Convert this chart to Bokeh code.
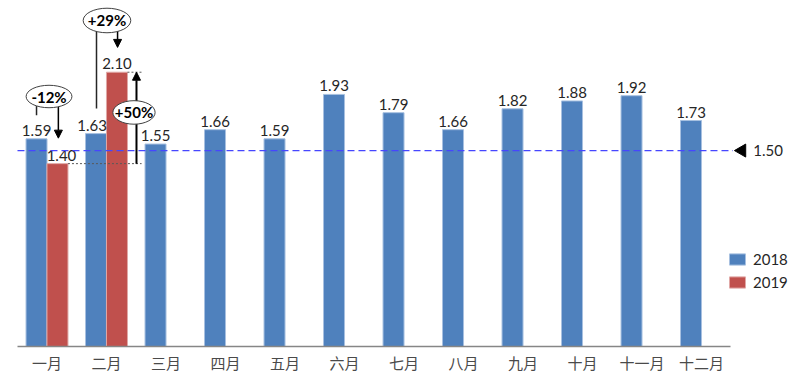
from math import pi
from bokeh.plotting import figure
from bokeh.models import (Range1d, FixedTicker, Arrow, NormalHead, Legend, LegendItem,
                          ColumnDataSource)
from bokeh.transform import dodge
from bokeh.embed import file_html
from bokeh.resources import INLINE
from bokeh.core.properties import value

# ---------------- data ----------------
months = ["一月", "二月", "三月", "四月", "五月", "六月",
          "七月", "八月", "九月", "十月", "十一月", "十二月"]
v2018 = [1.59, 1.63, 1.55, 1.66, 1.59, 1.93, 1.79, 1.66, 1.82, 1.88, 1.92, 1.73]
v2019 = [1.40, 2.10]
target = 1.50
series = ["2018", "2019"]
change_labels = ["-12%", "+29%", "+50%"]

# ---------------- styles ----------------
BLUE = "#4F81BD"
RED = "#C0504D"
NUM_FONT = value("Lato")
CJK_FONT = "Noto Sans CJK SC"
BW = 0.353          # bar width (category units)
OFF = 0.176         # dodge offset

idx = list(range(len(months)))
src18 = ColumnDataSource(dict(x=idx, top=v2018,
                              lab=[f"{v:.2f}" for v in v2018],
                              dx=[0, -4] + [0] * (len(months) - 2)))
src19 = ColumnDataSource(dict(x=idx[:len(v2019)], top=v2019,
                              lab=[f"{v:.2f}" for v in v2019],
                              dx=[4, 0]))

p = figure(width=800, height=380, output_backend="svg", toolbar_location=None,
           x_range=Range1d(-0.7815, 12.664), y_range=Range1d(0, 2.649),
           y_axis_location=None,
           min_border_left=0, min_border_right=0, min_border_top=0, min_border_bottom=34)
p.outline_line_color = None
p.xgrid.visible = False
p.ygrid.visible = False
p.background_fill_color = "white"

ax = p.xaxis[0]
ax.ticker = FixedTicker(ticks=idx)
ax.major_label_overrides = {i: m for i, m in zip(idx, months)}
ax.major_tick_line_color = None
ax.minor_tick_line_color = None
ax.major_tick_in = 0
ax.major_tick_out = 0
ax.axis_line_color = "#868686"
ax.axis_line_width = 1.5
ax.bounds = (-0.496, len(months) - 0.513)
ax.major_label_text_font = CJK_FONT
ax.major_label_text_font_size = "15px"
ax.major_label_text_color = "#4a4a4a"
ax.major_label_standoff = 5

# bars
r18 = p.vbar(x=dodge("x", -OFF), top="top", width=BW, source=src18,
             fill_color=BLUE, line_color="#A7C0E0", line_width=1)
r19 = p.vbar(x=dodge("x", OFF), top="top", width=BW, source=src19,
             fill_color=RED, line_color="#E0A8A6", line_width=1)

# data labels
p.text(x=dodge("x", -OFF), y="top", text="lab", source=src18, x_offset="dx", y_offset=-3,
       text_align="center", text_baseline="bottom", text_font=NUM_FONT,
       text_font_size="15px", text_color="#262626")
p.text(x=dodge("x", OFF), y="top", text="lab", source=src19, x_offset="dx", y_offset=-3,
       text_align="center", text_baseline="bottom", text_font=NUM_FONT,
       text_font_size="15px", text_color="#262626")

# target line
last = len(months) - 1
p.segment(x0=[-0.496], x1=[last + 0.53], y0=[target], y1=[target],
          line_color="#4646FF", line_width=1.2, line_dash="7 4")
p.scatter(x=[last + 0.68], y=[target], marker="triangle", angle=pi / 2, size=13,
          fill_color="black", line_color="black")
p.text(x=[last + 0.87], y=[target], text=[f"{target:.2f}"], text_align="left",
       text_baseline="middle", text_font=NUM_FONT, text_font_size="15px", text_color="#262626")

# dotted helper lines
p.segment(x0=[OFF + BW / 2, 1 + OFF + BW / 2], x1=[1.59, 1.59],
          y0=[v2019[0], v2019[1]], y1=[v2019[0], v2019[1]],
          line_color="#595959", line_width=1, line_dash="2 2")

# annotation lines / arrows
head = dict(size=8, fill_color="black", line_color="black")
# -12%
p.segment(x0=[-OFF], x1=[-OFF], y0=[1.86], y1=[1.77], line_color="#262626", line_width=1.5)
p.add_layout(Arrow(end=NormalHead(**head), x_start=OFF + 0.015, y_start=1.86,
                   x_end=OFF + 0.015, y_end=1.595, line_width=1.5, line_color="black"))
# +29%
p.segment(x0=[1 - OFF + 0.008], x1=[1 - OFF + 0.008], y0=[2.45], y1=[1.822],
          line_color="#262626", line_width=1.5)
p.add_layout(Arrow(end=NormalHead(**head), x_start=1 + OFF + 0.01, y_start=2.43,
                   x_end=1 + OFF + 0.01, y_end=2.29, line_width=1.5, line_color="black"))
# +50%
p.add_layout(Arrow(end=NormalHead(**head), x_start=1.504, y_start=v2019[0],
                   x_end=1.504, y_end=v2019[1], line_width=2, line_color="black"))

# ellipses with change labels
ell = ColumnDataSource(dict(x=[0.034, 1.008, 1.462], y=[1.914, 2.496, 1.792],
                            w=[0.77, 0.80, 0.71], h=[0.172, 0.188, 0.18],
                            t=change_labels))
er = p.ellipse(x="x", y="y", width="w", height="h", source=ell,
               fill_color="white", line_color="#404040", line_width=1)
er.level = "overlay"
tr = p.text(x="x", y="y", text="t", source=ell, text_align="center", text_baseline="middle",
            text_font=NUM_FONT, text_font_size="15px", text_font_style="bold",
            text_color="black")
tr.level = "overlay"

# legend
leg = Legend(items=[LegendItem(label=series[0], renderers=[r18]),
                    LegendItem(label=series[1], renderers=[r19])],
             location=(727, 55), padding=0, margin=0, spacing=5,
             glyph_width=20, glyph_height=14, label_height=14, label_standoff=6,
             border_line_alpha=0, background_fill_alpha=0,
             label_text_font="Lato", label_text_font_size="15px", label_text_color="#262626")
p.add_layout(leg, "center")

open("out.html", "w").write(file_html(p, INLINE))
